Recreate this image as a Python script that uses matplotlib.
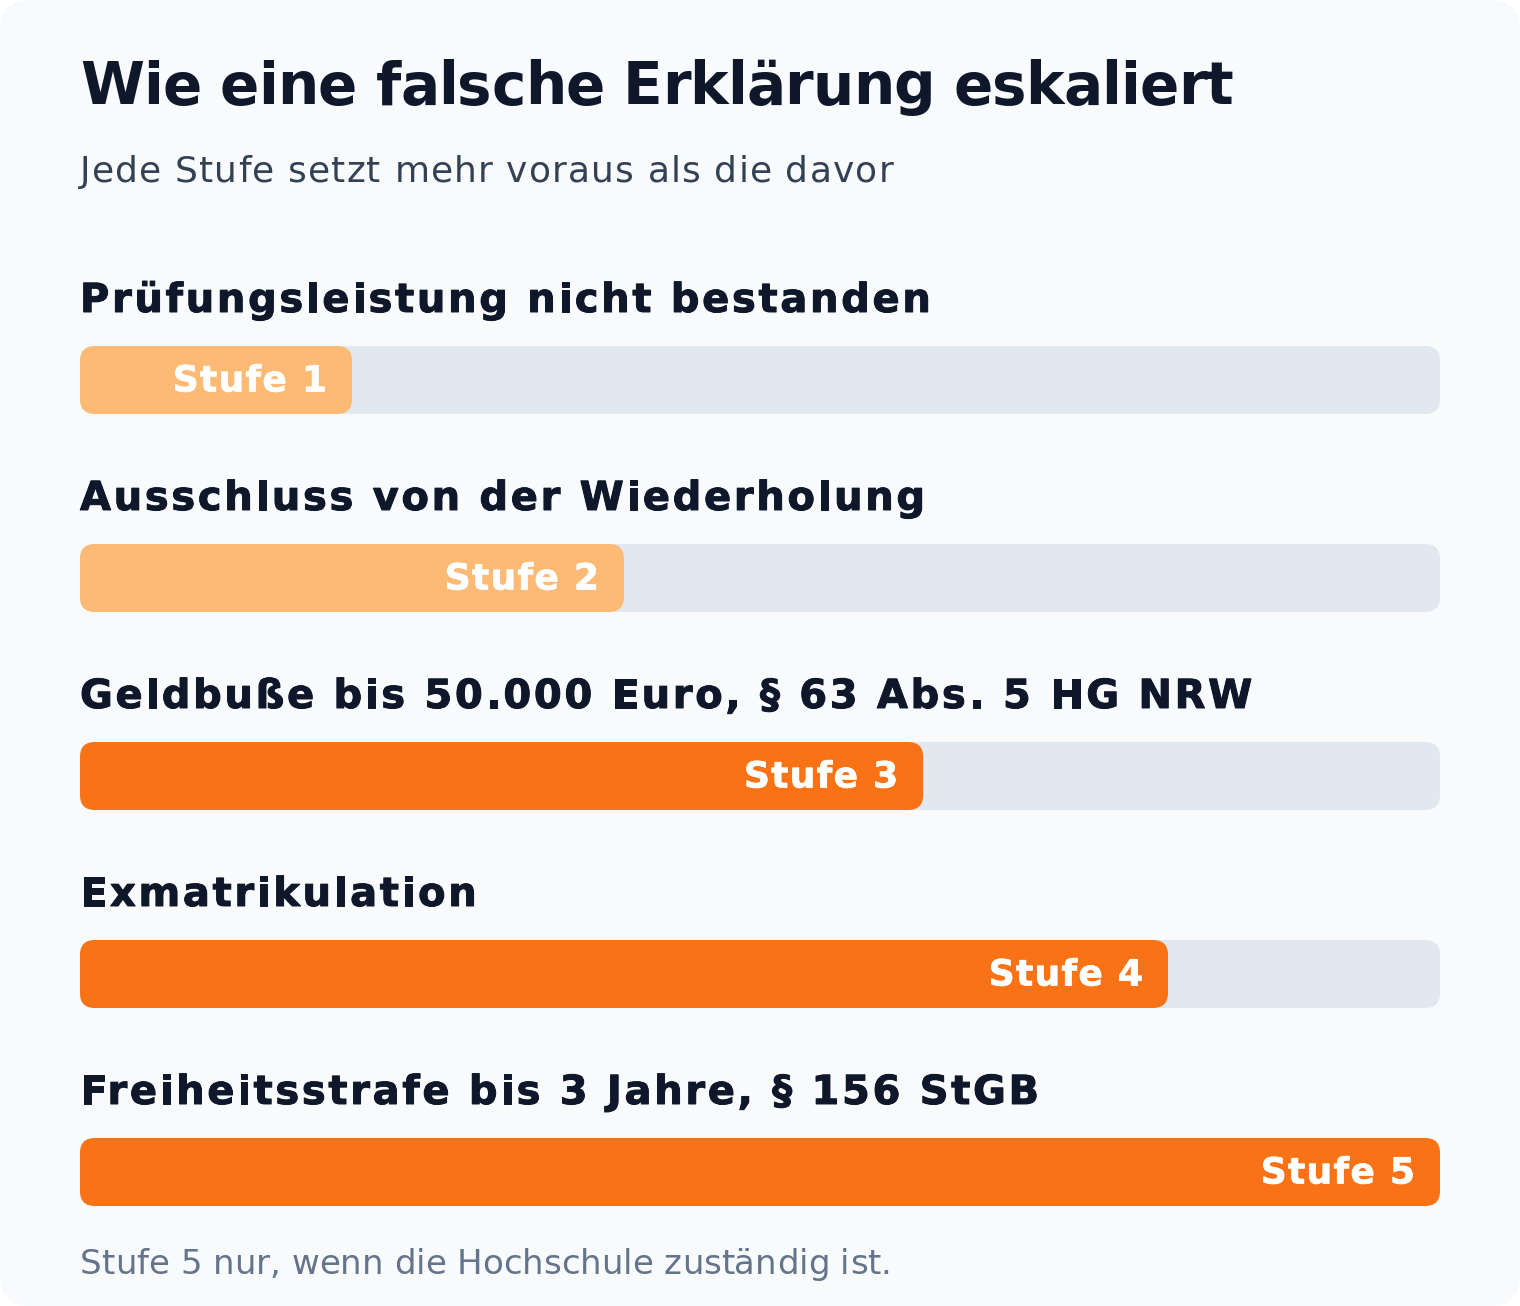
import matplotlib.pyplot as plt
import matplotlib.patheffects as pe
from matplotlib.patches import FancyBboxPatch
from matplotlib.font_manager import FontProperties
from matplotlib.textpath import TextToPath
from matplotlib.transforms import offset_copy

# data
steps = ['Prüfungsleistung nicht bestanden',
         'Ausschluss von der Wiederholung',
         'Geldbuße bis 50.000 Euro, § 63 Abs. 5 HG NRW',
         'Exmatrikulation',
         'Freiheitsstrafe bis 3 Jahre, § 156 StGB']
levels = [20, 40, 62, 80, 100]
level_labels = ['Stufe 1', 'Stufe 2', 'Stufe 3', 'Stufe 4', 'Stufe 5']
bar_colors = ['#fdba74', '#fdba74', '#f97316', '#f97316', '#f97316']

title = 'Wie eine falsche Erklärung eskaliert'
subtitle = 'Jede Stufe setzt mehr voraus als die davor'
footnote = 'Stufe 5 nur, wenn die Hochschule zuständig ist.'

W, H = 1520, 1306
DPI = 100

fig = plt.figure(figsize=(W / DPI, H / DPI), dpi=DPI)
fig.patch.set_facecolor('white')
ttp = TextToPath()


def font(size_px, weight='normal'):
    return FontProperties(family='DejaVu Sans', weight=weight, size=size_px * 72 / DPI)


def spaced_text(ax_, x, y, s, prop, spacing=0.0, ha='left', dx=0.0, **kw):
    # draw text glyph by glyph so letter spacing (in px) can be added
    try:
        f = ttp._get_font(prop)
        f.set_size(ttp.FONT_SCALE, ttp.DPI)
        info, _, _ = ttp.get_glyphs_with_font(f, s)
        scale = prop.get_size_in_points() / ttp.FONT_SCALE * DPI / 72
        xs = [g[1] * scale for g in info]
        total = ttp.get_text_width_height_descent(s, prop, False)[0] * DPI / 72
        total += (len(s) - 1) * spacing
    except Exception:
        tr = offset_copy(ax_.transData, fig=fig, x=dx, y=0, units='dots')
        ax_.text(x, y, s, fontproperties=prop, ha=ha, va='baseline', transform=tr, **kw)
        return
    start = dx - total if ha == 'right' else dx
    for i, c in enumerate(s):
        if c == ' ':
            continue
        tr = offset_copy(ax_.transData, fig=fig, x=start + xs[i] + i * spacing,
                         y=0, units='dots')
        ax_.text(x, y, c, fontproperties=prop, transform=tr,
                 ha='left', va='baseline', **kw)


# background card, pixel coordinates
ax = fig.add_axes([0, 0, 1, 1])
ax.set_xlim(0, W)
ax.set_ylim(H, 0)
ax.axis('off')
ax.add_patch(FancyBboxPatch((0, 0), W, H, boxstyle='round,pad=0,rounding_size=30',
                            fc='#f8fafc', ec='none'))

spaced_text(ax, 80, 104.5, title, font(58, 'bold'), spacing=-0.85, color='#0f172a')
spaced_text(ax, 80, 182, subtitle, font(36), spacing=1.15, color='#334155')
spaced_text(ax, 80, 1274, footnote, font(34), spacing=0.0, color='#64748b')

# bars axis: x in percent, y in pixels
track_left, track_w = 80, 1360
bax = fig.add_axes([track_left / W, 0, track_w / W, 1])
bax.set_xlim(0, 100)
bax.set_ylim(H, 0)
bax.axis('off')
bax.patch.set_alpha(0)

first_top, gap, bar_h, radius = 346, 198, 68, 15
aspect = track_w / 100  # pixels per percent
r = radius / aspect
label_fx = [pe.withStroke(linewidth=0.7, foreground='#0f172a')]
stufe_fx = [pe.withStroke(linewidth=0.5, foreground='white')]

for i, (name, val, lab, col) in enumerate(zip(steps, levels, level_labels, bar_colors)):
    top = first_top + i * gap
    bax.add_patch(FancyBboxPatch((0, top), 100, bar_h,
                                 boxstyle=f'round,pad=0,rounding_size={r}',
                                 mutation_aspect=aspect, fc='#e2e8f0', ec='none'))
    bax.add_patch(FancyBboxPatch((0, top), val, bar_h,
                                 boxstyle=f'round,pad=0,rounding_size={r}',
                                 mutation_aspect=aspect, fc=col, ec='none'))
    spaced_text(bax, 0, top - 34, name, font(40, 'bold'), spacing=2.7,
                color='#0f172a', path_effects=label_fx)
    spaced_text(bax, val, top + 45.5, lab, font(36, 'bold'), spacing=1.3,
                ha='right', dx=-25, color='white', path_effects=stufe_fx)

fig.savefig('out.png', dpi=DPI, facecolor='white')
